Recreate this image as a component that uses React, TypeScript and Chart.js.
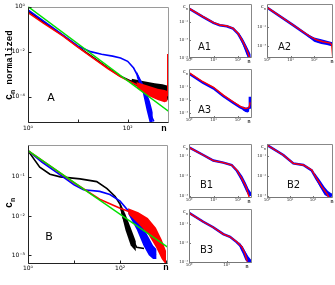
import React, { useEffect, useRef } from "react";
import { Chart, registerables } from "chart.js";
Chart.register(...registerables);

const BLUE = "#0000ff";
const RED = "#ff0000";
const GREEN = "#00e000";
const BLACK = "#000000";
const SANS = '"DejaVu Sans", sans-serif';
const MONO = '"Liberation Mono", "DejaVu Sans Mono", monospace';

// ---------- Panel A (main): n vs log10(c_n normalized) ----------
const aGreenN = [1, 700];
const aGreenLog = [0, -4.69];
const aBlackN = [1, 2, 5, 10, 20, 40, 70, 115, 145, 230, 370, 530, 610, 650];
const aBlackLog = [-0.2, -0.68, -1.28, -1.78, -2.25, -2.72, -3.08, -3.3, -3.35, -3.5, -3.58, -3.62, -3.75, -4.15];
const aBlackBandN = [120, 200, 350, 500, 620];
const aBlackBandHi = [-3.2, -3.3, -3.4, -3.45, -3.5];
const aBlackBandLo = [-3.4, -3.7, -3.8, -3.85, -4.0];
const aBlueN = [1, 3, 10, 18, 30, 50, 72, 100, 132, 167, 200, 230, 250, 290, 335];
const aBlueLog = [-0.15, -0.9, -1.75, -2.0, -2.12, -2.2, -2.28, -2.43, -2.73, -3.17, -3.6, -3.96, -4.48, -4.8, -5.1];
const aBlueBandN = [150, 200, 240, 280, 320];
const aBlueBandHi = [-2.85, -3.4, -3.8, -4.2, -4.7];
const aBlueBandLo = [-3.1, -3.8, -4.6, -5.2, -5.3];
const aRedN = [1, 2, 5, 10, 20, 40, 70, 115, 180, 290, 460, 560, 620, 640];
const aRedLog = [-0.26, -0.72, -1.3, -1.8, -2.28, -2.75, -3.1, -3.35, -3.55, -3.75, -3.92, -4.0, -3.95, -2.1];
const aRedBandN = [150, 250, 400, 550, 630];
const aRedBandHi = [-3.35, -3.5, -3.65, -3.7, -3.75];
const aRedBandLo = [-3.6, -3.95, -4.15, -4.25, -4.2];

// ---------- Panel B (main): n vs log10(c_n) ----------
const bGreenN = [1, 1100];
const bGreenLog = [-0.33, -2.8];
const bBlackN = [1, 1.8, 3, 5, 13.5, 31, 52, 78, 100, 117, 150, 190, 230, 330];
const bBlackLog = [-0.33, -0.75, -0.93, -1.0, -1.05, -1.12, -1.3, -1.5, -1.7, -2.05, -2.37, -2.62, -2.8, -2.83];
const bBlackBandN = [100, 130, 170, 220];
const bBlackBandHi = [-1.65, -1.95, -2.3, -2.65];
const bBlackBandLo = [-1.8, -2.35, -2.75, -2.9];
const bBlueN = [1, 2, 5, 10, 16, 36, 60, 100, 165, 230, 315, 400, 520, 600];
const bBlueLog = [-0.33, -0.62, -0.95, -1.2, -1.33, -1.37, -1.45, -1.62, -1.92, -2.17, -2.55, -2.8, -2.95, -3.0];
const bBlueBandN = [150, 230, 320, 420, 520, 620];
const bBlueBandHi = [-1.8, -2.0, -2.3, -2.55, -2.75, -2.85];
const bBlueBandLo = [-1.95, -2.35, -2.75, -3.0, -3.1, -3.1];
const bRedN = [1, 3, 10, 36, 100, 190, 315, 500, 640, 820, 950];
const bRedLog = [-0.33, -0.72, -1.15, -1.57, -1.8, -1.92, -2.12, -2.37, -2.62, -2.95, -3.07];
const bRedBandN = [150, 250, 400, 600, 800, 1000];
const bRedBandHi = [-1.8, -1.9, -2.05, -2.3, -2.6, -2.9];
const bRedBandLo = [-1.95, -2.2, -2.45, -2.8, -3.1, -3.25];

// ---------- Small panels: data (blue) and fit (red) ----------
const a1N = [1, 3.7, 10, 18, 35, 63, 100, 160, 230, 300];
const a1Fit = [-0.48, -1.4, -2.07, -2.33, -2.44, -2.7, -3.25, -4.2, -5.1, -6.0];
const a1Data = [-0.5, -1.43, -2.1, -2.36, -2.47, -2.73, -3.3, -4.25, -5.2, -6.1];
const a1BandN = [110, 160, 220, 280, 330];
const a1BandHi = [-3.2, -3.9, -4.6, -5.2, -5.6];
const a1BandLo = [-3.6, -4.6, -5.6, -6.2, -6.2];

const a2N = [1, 12.8, 67, 133, 240, 480, 560, 620];
const a2Fit = [0.07, -1.79, -3.0, -3.37, -3.55, -3.7, -3.9, -5.3];
const a2DataN = [1, 12.8, 67, 133, 240, 480, 600];
const a2Data = [0.05, -1.8, -3.05, -3.45, -3.6, -3.75, -3.8];
const a2BandN = [50, 100, 200, 350, 500, 600];
const a2BandHi = [-2.7, -3.1, -3.3, -3.45, -3.55, -3.6];
const a2BandLo = [-2.95, -3.55, -3.8, -3.9, -4.0, -4.0];

const a3N = [1, 3.7, 10, 25, 63, 120, 190, 250, 290, 310];
const a3Fit = [0.13, -0.58, -1.02, -1.63, -2.15, -2.5, -2.68, -2.65, -2.55, -2.2];
const a3DataN = [1, 3.7, 10, 25, 63, 120, 190, 250, 290, 305];
const a3Data = [0.06, -0.66, -1.1, -1.7, -2.22, -2.57, -2.75, -2.72, -2.6, -1.76];
const a3BandN = [150, 200, 250, 290];
const a3BandHi = [-2.5, -2.6, -2.6, -2.5];
const a3BandLo = [-2.8, -2.95, -3.0, -2.9];

const b1N = [1, 3.8, 9.8, 25, 55, 88, 142, 212, 290];
const b1Fit = [-0.57, -0.95, -1.23, -1.33, -1.45, -1.7, -2.12, -2.53, -3.1];
const b1Data = [-0.57, -0.95, -1.23, -1.33, -1.45, -1.72, -2.15, -2.55, -2.9];
const b1BandN = [100, 150, 210, 270, 330, 370];
const b1BandHi = [-1.7, -2.0, -2.35, -2.65, -2.8, -2.85];
const b1BandLo = [-1.85, -2.35, -2.75, -3.0, -3.0, -2.95];

const b2N = [1, 5.1, 13.9, 38, 88, 144, 240, 395, 515];
const b2Fit = [-0.45, -0.95, -1.37, -1.45, -1.7, -2.12, -2.53, -2.87, -3.1];
const b2Data = [-0.45, -0.95, -1.37, -1.45, -1.72, -2.15, -2.55, -2.85, -2.95];
const b2BandN = [120, 200, 320, 450, 600, 740];
const b2BandHi = [-1.85, -2.2, -2.55, -2.75, -2.85, -2.9];
const b2BandLo = [-2.05, -2.55, -2.95, -3.05, -3.05, -3.0];

const b3N = [1, 2.4, 4.4, 8.2, 12.4, 18.7, 25.5, 31, 35.8];
const b3Fit = [-0.41, -0.88, -1.17, -1.53, -1.67, -1.93, -2.19, -2.54, -2.98];
const b3Data = [-0.41, -0.88, -1.17, -1.53, -1.67, -1.95, -2.22, -2.55, -2.85];
const b3BandN = [22, 27, 32, 38, 44, 48];
const b3BandHi = [-1.95, -2.2, -2.45, -2.7, -2.85, -2.9];
const b3BandLo = [-2.2, -2.55, -2.9, -3.05, -3.05, -3.0];

// ---------- tick labels ----------
const mainXExp = [0, 2];
const mainXLabels = ["10⁰", "10²"];
const aYExp = [0, -2, -4];
const aYLabels = ["10⁰", "10⁻²", "10⁻⁴"];
const bYExp = [-1, -2, -3];
const bYLabels = ["10⁻¹", "10⁻²", "10⁻³"];
const smallXExp = [0, 1, 2];
const smallXLabels = ["10⁰", "10¹", "10²"];
const b3XExp = [0, 1];
const b3XLabels = ["10⁰", "10¹"];
const a1YExp = [-2, -4, -6];
const a1YLabels = ["10⁻²", "10⁻⁴", "10⁻⁶"];
const a2YExp = [-2, -4];
const a2YLabels = ["10⁻²", "10⁻⁴"];
const sYExp = [-1, -2, -3];
const sYLabels = ["10⁻¹", "10⁻²", "10⁻³"];

type Band = { n: number[]; hi: number[]; lo: number[] };
type Series = { n: number[]; lg: number[]; color: string; width: number; band?: Band };
type Part = { s: string; font: string; dy?: number };
type Txt = {
  s?: string; parts?: Part[]; x: number; y: number; font?: string; color?: string;
  align?: CanvasTextAlign; baseline?: CanvasTextBaseline; rot?: boolean;
};
type PanelCfg = {
  box: [number, number, number, number];
  plot: [number, number, number, number];
  xr: [number, number]; yr: [number, number];
  xt: number[]; xl: string[]; yt: number[]; yl: string[];
  tickFont: number; tickColor: string; xPad: number; yPad: number;
  small: boolean;
  series: Series[];
  texts: Txt[];
};

const pts = (n: number[], lg: number[]) => n.map((v, i) => ({ x: v, y: Math.pow(10, lg[i]) }));

function smallSeries(n: number[], dataN: number[], data: number[], fit: number[], band: Band): Series[] {
  return [
    { n: dataN, lg: data, color: BLUE, width: 2.5, band },
    { n, lg: fit, color: RED, width: 1.4 },
  ];
}

function smallTexts(left: number, top: number, label: string, lx: number, ly: number, nx: number, ny: number): Txt[] {
  return [
    { parts: [{ s: "c", font: `5px ${SANS}` }, { s: "n", font: `3.5px ${SANS}`, dy: 1.5 }], x: left - 6, y: top + 4 },
    { s: label, x: lx, y: ly, font: `10px ${SANS}`, align: "left", baseline: "middle", color: "#111" },
    { s: "n", x: nx, y: ny, font: `bold 5px ${MONO}`, align: "center", baseline: "middle", color: "#222" },
  ];
}

const PANELS: PanelCfg[] = [
  {
    box: [0, 0, 172, 136], plot: [28, 4, 169, 123], xr: [0, 2.83], yr: [-5.17, 0],
    xt: mainXExp, xl: mainXLabels, yt: aYExp, yl: aYLabels, tickFont: 6, tickColor: "#000", xPad: 2, yPad: 3,
    small: false,
    series: [
      { n: aBlackN, lg: aBlackLog, color: BLACK, width: 1.6, band: { n: aBlackBandN, hi: aBlackBandHi, lo: aBlackBandLo } },
      { n: aBlueN, lg: aBlueLog, color: BLUE, width: 1.6, band: { n: aBlueBandN, hi: aBlueBandHi, lo: aBlueBandLo } },
      { n: aRedN, lg: aRedLog, color: RED, width: 1.6, band: { n: aRedBandN, hi: aRedBandHi, lo: aRedBandLo } },
      { n: aGreenN, lg: aGreenLog, color: GREEN, width: 1.5 },
    ],
    texts: [
      { parts: [{ s: "c", font: `bold 10px ${MONO}` }, { s: "n", font: `bold 7px ${MONO}`, dy: 2.5 }, { s: " normalized", font: `bold 9px ${MONO}` }], x: 12, y: 100, rot: true },
      { s: "A", x: 51, y: 98, font: `11px ${SANS}`, align: "center", baseline: "middle" },
      { s: "n", x: 164, y: 129, font: `bold 9px ${MONO}`, align: "center", baseline: "middle" },
    ],
  },
  {
    box: [0, 138, 172, 147], plot: [28, 142, 168, 264], xr: [0, 3.04], yr: [-3.225, -0.175],
    xt: mainXExp, xl: mainXLabels, yt: bYExp, yl: bYLabels, tickFont: 6, tickColor: "#000", xPad: 1, yPad: 3,
    small: false,
    series: [
      { n: bBlackN, lg: bBlackLog, color: BLACK, width: 1.6, band: { n: bBlackBandN, hi: bBlackBandHi, lo: bBlackBandLo } },
      { n: bBlueN, lg: bBlueLog, color: BLUE, width: 1.6, band: { n: bBlueBandN, hi: bBlueBandHi, lo: bBlueBandLo } },
      { n: bRedN, lg: bRedLog, color: RED, width: 1.6, band: { n: bRedBandN, hi: bRedBandHi, lo: bRedBandLo } },
      { n: bGreenN, lg: bGreenLog, color: GREEN, width: 1.5 },
    ],
    texts: [
      { parts: [{ s: "c", font: `bold 10px ${MONO}` }, { s: "n", font: `bold 7px ${MONO}`, dy: 2.5 }], x: 12, y: 208, rot: true },
      { s: "B", x: 49, y: 237, font: `11px ${SANS}`, align: "center", baseline: "middle" },
      { s: "n", x: 166, y: 268, font: `bold 9px ${MONO}`, align: "center", baseline: "middle" },
    ],
  },
  {
    box: [176, 0, 80, 64], plot: [189, 4, 252, 58], xr: [0, 2.57], yr: [-6, 0],
    xt: smallXExp, xl: smallXLabels, yt: a1YExp, yl: a1YLabels, tickFont: 4, tickColor: "#333", xPad: 0, yPad: 1,
    small: true,
    series: smallSeries(a1N, a1N, a1Data, a1Fit, { n: a1BandN, hi: a1BandHi, lo: a1BandLo }),
    texts: smallTexts(189, 4, "A1", 198, 47, 249, 62),
  },
  {
    box: [256, 0, 79, 64], plot: [267, 4, 333, 58], xr: [0, 2.8], yr: [-5.26, 0.42],
    xt: smallXExp, xl: smallXLabels, yt: a2YExp, yl: a2YLabels, tickFont: 4, tickColor: "#333", xPad: 0, yPad: 1,
    small: true,
    series: smallSeries(a2N, a2DataN, a2Data, a2Fit, { n: a2BandN, hi: a2BandHi, lo: a2BandLo }),
    texts: smallTexts(267, 4, "A2", 278, 47, 332, 62),
  },
  {
    box: [176, 64, 80, 60], plot: [189, 69, 252, 118], xr: [0, 2.57], yr: [-3.43, 0.42],
    xt: smallXExp, xl: smallXLabels, yt: sYExp, yl: sYLabels, tickFont: 4, tickColor: "#333", xPad: 0, yPad: 1,
    small: true,
    series: smallSeries(a3N, a3DataN, a3Data, a3Fit, { n: a3BandN, hi: a3BandHi, lo: a3BandLo }),
    texts: smallTexts(189, 69, "A3", 198, 110, 249, 122),
  },
  {
    box: [176, 140, 80, 64], plot: [189, 144, 252, 198], xr: [0, 2.57], yr: [-3.1, -0.4],
    xt: smallXExp, xl: smallXLabels, yt: sYExp, yl: sYLabels, tickFont: 4, tickColor: "#333", xPad: 0, yPad: 1,
    small: true,
    series: smallSeries(b1N, b1N, b1Data, b1Fit, { n: b1BandN, hi: b1BandHi, lo: b1BandLo }),
    texts: smallTexts(189, 144, "B1", 200, 185, 249, 202),
  },
  {
    box: [256, 140, 79, 64], plot: [267, 144, 333, 198], xr: [0, 2.87], yr: [-3.1, -0.4],
    xt: smallXExp, xl: smallXLabels, yt: sYExp, yl: sYLabels, tickFont: 4, tickColor: "#333", xPad: 0, yPad: 1,
    small: true,
    series: smallSeries(b2N, b2N, b2Data, b2Fit, { n: b2BandN, hi: b2BandHi, lo: b2BandLo }),
    texts: smallTexts(267, 144, "B2", 287, 185, 332, 202),
  },
  {
    box: [176, 204, 80, 66], plot: [189, 209, 252, 263], xr: [0, 1.68], yr: [-3.05, -0.21],
    xt: b3XExp, xl: b3XLabels, yt: sYExp, yl: sYLabels, tickFont: 4, tickColor: "#333", xPad: 0, yPad: 1,
    small: true,
    series: smallSeries(b3N, b3N, b3Data, b3Fit, { n: b3BandN, hi: b3BandHi, lo: b3BandLo }),
    texts: smallTexts(189, 209, "B3", 200, 250, 247, 267),
  },
];

function drawText(ctx: CanvasRenderingContext2D, t: Txt, ox: number, oy: number) {
  ctx.save();
  ctx.translate(t.x - ox, t.y - oy);
  if (t.rot) ctx.rotate(-Math.PI / 2);
  ctx.fillStyle = t.color || "#000";
  if (t.parts) {
    ctx.textAlign = "left";
    ctx.textBaseline = "alphabetic";
    let cx = 0;
    for (const p of t.parts) {
      ctx.font = p.font;
      ctx.fillText(p.s, cx, p.dy || 0);
      cx += ctx.measureText(p.s).width;
    }
  } else if (t.s) {
    ctx.font = t.font || `8px ${SANS}`;
    ctx.textAlign = t.align || "left";
    ctx.textBaseline = t.baseline || "alphabetic";
    ctx.fillText(t.s, 0, 0);
  }
  ctx.restore();
}

function Panel({ cfg }: { cfg: PanelCfg }) {
  const ref = useRef<HTMLCanvasElement>(null);
  useEffect(() => {
    if (!ref.current) return;
    const [bl, bt, bw, bh] = cfg.box;
    const [x0, y0, x1, y1] = cfg.plot;
    const datasets: any[] = [];
    cfg.series.forEach((s) => {
      if (s.band) {
        datasets.push({ data: pts(s.band.n, s.band.hi), borderColor: "transparent", borderWidth: 0, pointRadius: 0, fill: false, backgroundColor: s.color });
        datasets.push({ data: pts(s.band.n, s.band.lo), borderColor: "transparent", borderWidth: 0, pointRadius: 0, fill: "-1", backgroundColor: s.color });
      }
      datasets.push({ data: pts(s.n, s.lg), borderColor: s.color, borderWidth: s.width, pointRadius: 0, fill: false, tension: 0 });
    });
    const L = datasets.length;
    datasets.forEach((d, i) => (d.order = L - i));

    const framePlugin = {
      id: "frame",
      afterDraw(chart: any) {
        const ctx: CanvasRenderingContext2D = chart.ctx;
        const a = chart.chartArea;
        const xs = chart.scales.x;
        const ys = chart.scales.y;
        ctx.save();
        ctx.lineWidth = 1;
        const L0 = Math.round(a.left) + 0.5, R0 = Math.round(a.right) - 0.5;
        const T0 = Math.round(a.top) + 0.5, B0 = Math.round(a.bottom) - 0.5;
        const dark = cfg.small ? "#777" : "#222";
        const light = cfg.small ? "#888" : "#9a9a9a";
        ctx.strokeStyle = light;
        ctx.beginPath(); ctx.moveTo(L0, T0); ctx.lineTo(R0, T0); ctx.lineTo(R0, B0); ctx.stroke();
        ctx.strokeStyle = dark;
        ctx.beginPath(); ctx.moveTo(L0, T0); ctx.lineTo(L0, B0); ctx.lineTo(R0, B0); ctx.stroke();
        // inward ticks
        const tl = cfg.small ? 1.5 : 3;
        ctx.strokeStyle = dark;
        ctx.beginPath();
        for (let e = 0; e <= Math.floor(cfg.xr[1]); e++) {
          const px = Math.round(xs.getPixelForValue(Math.pow(10, e))) + 0.5;
          ctx.moveTo(px, B0); ctx.lineTo(px, B0 - tl);
        }
        for (const e of cfg.yt) {
          const py = Math.round(ys.getPixelForValue(Math.pow(10, e))) + 0.5;
          ctx.moveTo(L0, py); ctx.lineTo(L0 + tl, py);
        }
        ctx.stroke();
        ctx.restore();
        for (const t of cfg.texts) drawText(ctx, t, bl, bt);
      },
    };

    const chart = new Chart(ref.current, {
      type: "line",
      data: { datasets },
      plugins: [framePlugin],
      options: {
        animation: false,
        responsive: false,
        maintainAspectRatio: false,
        devicePixelRatio: 1,
        parsing: true,
        layout: { padding: { left: 0, top: y0 - bt, right: bl + bw - x1, bottom: 0 } },
        plugins: { legend: { display: false }, tooltip: { enabled: false }, title: { display: false } },
        elements: { point: { radius: 0 }, line: { tension: 0 } },
        scales: {
          x: {
            type: "logarithmic",
            min: Math.pow(10, cfg.xr[0]),
            max: Math.pow(10, cfg.xr[1]),
            position: "bottom",
            grid: { display: false, drawTicks: false },
            border: { display: false },
            ticks: {
              font: { family: SANS, size: cfg.tickFont },
              color: cfg.tickColor,
              padding: cfg.xPad,
              maxRotation: 0,
              minRotation: 0,
              autoSkip: false,
              callback: (_v: any, i: number) => cfg.xl[i] ?? "",
            },
            afterBuildTicks: (s: any) => { s.ticks = cfg.xt.map((e) => ({ value: Math.pow(10, e) })); },
            afterFit: (s: any) => { s.height = bt + bh - y1; },
          } as any,
          y: {
            type: "logarithmic",
            min: Math.pow(10, cfg.yr[0]),
            max: Math.pow(10, cfg.yr[1]),
            position: "left",
            grid: { display: false, drawTicks: false },
            border: { display: false },
            ticks: {
              font: { family: SANS, size: cfg.tickFont },
              color: cfg.tickColor,
              padding: cfg.yPad,
              autoSkip: false,
              callback: (_v: any, i: number) => cfg.yl[i] ?? "",
            },
            afterBuildTicks: (s: any) => { s.ticks = cfg.yt.map((e) => ({ value: Math.pow(10, e) })); },
            afterFit: (s: any) => { s.width = x0 - bl; },
          } as any,
        },
      } as any,
    });
    return () => chart.destroy();
  }, [cfg]);
  const [bl, bt, bw, bh] = cfg.box;
  return (
    <canvas
      ref={ref}
      width={bw}
      height={bh}
      style={{ position: "absolute", left: bl, top: bt, width: bw, height: bh }}
    />
  );
}

export default function App() {
  useEffect(() => {
    document.body.style.margin = "0";
  }, []);
  return (
    <div style={{ position: "relative", width: 335, height: 285, background: "#fff", overflow: "hidden" }}>
      {PANELS.map((p, i) => (
        <Panel key={i} cfg={p} />
      ))}
    </div>
  );
}
